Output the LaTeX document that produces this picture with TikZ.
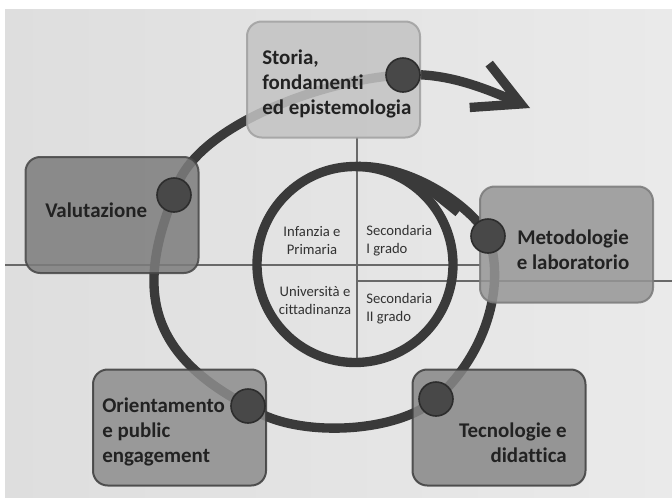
\documentclass[tikz,border=0pt]{standalone}
\usepackage{fontspec}
\setmainfont{Carlito}[Ligatures=NoCommon]
\usetikzlibrary{arrows.meta,positioning}
\definecolor{bgLeft}{RGB}{222,222,222}
\definecolor{bgRight}{RGB}{234,234,234}

\begin{document}
\begin{tikzpicture}[x=0.75pt,y=0.75pt,yscale=-1,xscale=1,
	ring/.style={draw={rgb, 255:red, 58; green, 58; blue, 58}, line width=7pt},
	axisline/.style={draw={rgb, 255:red, 105; green, 105; blue, 105}, line width=0.9pt},
	card/.style={rectangle, rounded corners=11pt, minimum width=129.75pt, minimum height=87pt, line width=1.5pt, opacity=0.85, inner sep=0pt},
	hub/.style={circle, minimum size=25.5pt, inner sep=0pt, fill={rgb, 255:red, 72; green, 72; blue, 72}, draw={rgb, 255:red, 45; green, 45; blue, 45}, line width=1.2pt},
	cardtext/.style={inner sep=0pt, font=\fontsize{15.7}{18.5}\selectfont\bfseries, text={rgb, 255:red, 34; green, 34; blue, 34}},
	cell/.style={inner sep=0pt, align=left, font=\fontsize{11}{13.5}\selectfont, text={rgb, 255:red, 50; green, 50; blue, 50}}
]
\useasboundingbox (0,0) rectangle (672,497);
%Background
\fill[white] (0,0) rectangle (672,497);
\shade[left color=bgLeft, right color=bgRight] (5,9) rectangle (672,497);

%Straight Lines (axes)
\draw[axisline] (5,265) -- (480,265);
\draw[axisline] (357,281) -- (672,281);
\draw[axisline] (357,137) -- (357,360);

%Hub positions
\coordinate (pS) at (403,75);
\coordinate (pV) at (174,195);
\coordinate (pM) at (488,236);
\coordinate (pO) at (248,406);
\coordinate (pT) at (436,399);
\coordinate (tip) at (530,108);
\coordinate (barbA) at (417,180);
\coordinate (barbB) at (458,213);

%Shape: Circle (inner)
\node[circle, ring, minimum size=147pt, inner sep=0pt, outer sep=0pt] (core) at (355,264.5) {};

%Curve Lines (outer ring)
\draw[ring] (pS) .. controls (330,78) and (190,125) .. (pV);
\draw[ring] (pV) .. controls (140,280) and (140,350) .. (pO);
\draw[ring] (pO) .. controls (290,438) and (395,435) .. (pT);
\draw[ring] (pT) .. controls (490,350) and (505,280) .. (pM);
\draw[ring] (pM) .. controls (470,205) and (410,164) .. (core.north);
\draw[ring, line width=6pt] (barbA) -- (barbB);
%Curve Lines (exit arrow)
\draw[ring, -{Straight Barb[length=34pt, width=36pt]}] (pS) .. controls (445,72) and (485,88) .. (tip);

%Shape: Rounded Rects
\node[card, fill={rgb, 255:red, 195; green, 195; blue, 195}, draw={rgb, 255:red, 160; green, 160; blue, 160}] (storia) at (333.5,79.5) {};
\node[card, fill={rgb, 255:red, 124; green, 124; blue, 124}, draw={rgb, 255:red, 70; green, 70; blue, 70}] (valut) at (112,215) {};
\node[card, fill={rgb, 255:red, 150; green, 150; blue, 150}, draw={rgb, 255:red, 122; green, 122; blue, 122}] (metod) at (566.5,244.5) {};
\node[card, fill={rgb, 255:red, 141; green, 141; blue, 141}, draw={rgb, 255:red, 60; green, 60; blue, 60}] (orient) at (179.5,427.5) {};
\node[card, fill={rgb, 255:red, 135; green, 135; blue, 135}, draw={rgb, 255:red, 60; green, 60; blue, 60}] (tecno) at (499,427.5) {};

%Shape: Circle (hubs)
\node[hub] (hubS) at (pS) {};
\node[hub] (hubV) at (pV) {};
\node[hub] (hubM) at (pM) {};
\node[hub] (hubO) at (pO) {};
\node[hub] (hubT) at (pT) {};

%Labels
\node[cardtext, anchor=west, align=left] (storiaTxt) at (262,84) {Storia,\\fondamenti\\ed epistemologia};
\node[cardtext, anchor=west] (valutTxt) at (45,210) {Valutazione};
\node[cardtext, align=center] (metodTxt) at (573,250) {Metodologie\\e laboratorio};
\node[cardtext, anchor=west, align=left] (orientTxt) at (102,432) {Orientamento\\e public\\engagement};
\node[cardtext, anchor=east, align=right] (tecnoTxt) at (567,443) {Tecnologie e\\didattica};

\node[cell, align=center] (infanzia) at (312,241) {Infanzia e\\Primaria};
\node[cell, anchor=west] (secondo1) at (366,241) {Secondaria\\I grado};
\node[cell, align=center] (univ) at (315,301) {Università e\\cittadinanza};
\node[cell, anchor=west] (secondo2) at (366,309) {Secondaria\\II grado};
\end{tikzpicture}
\end{document}
